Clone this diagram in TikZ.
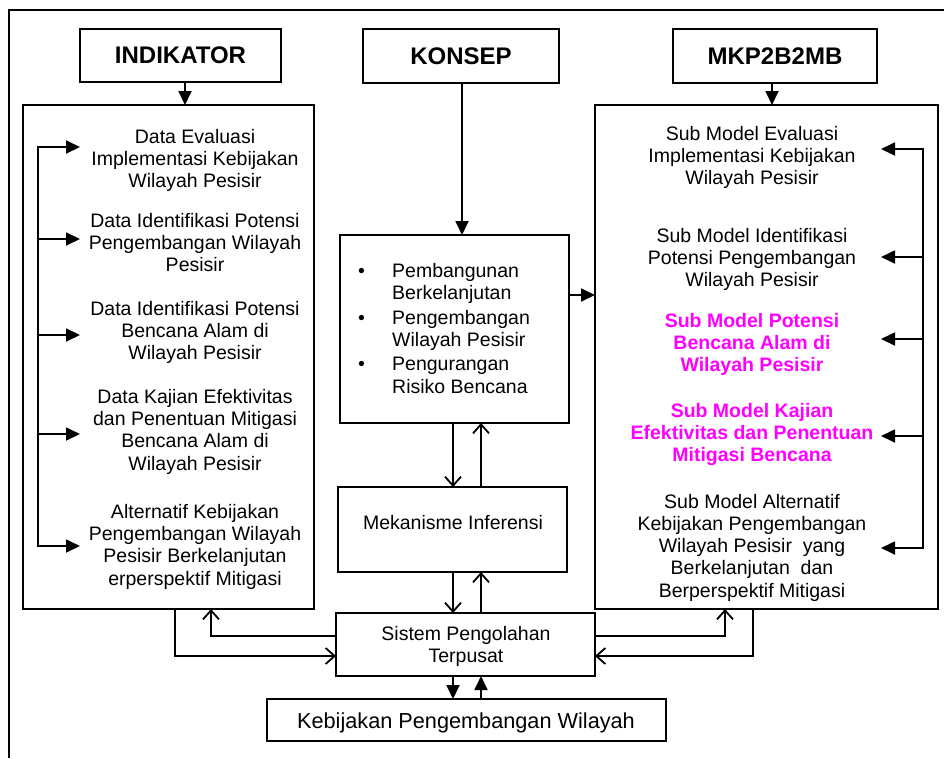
\documentclass[tikz,border=0pt]{standalone}
\usepackage{fontspec}
\setmainfont{Liberation Sans}
\usetikzlibrary{arrows.meta}
\definecolor{mag}{HTML}{FF00FF}
\begin{document}
\begin{tikzpicture}[x=1pt,y=-1pt,
  box/.style={draw,line width=1.8pt,inner sep=0pt,outer sep=0pt},
  hdr/.style={box,font=\fontsize{24}{28}\selectfont\bfseries},
  txt/.style={font=\fontsize{19.5}{22.3}\selectfont,align=center,inner sep=0pt,anchor=base},
  mtxt/.style={txt,font=\fontsize{19.5}{22.3}\selectfont\bfseries,text=mag},
  ln/.style={line width=1.8pt},
  farr/.style={ln,-{Triangle[length=14pt,width=13pt]}},
  oarr/.style={ln,-{Straight Barb[length=9pt,width=16pt]}},
]
\useasboundingbox (0,0) rectangle (944,758);
% outer frame (only top and left edges visible)
\draw[ln] (944,10) -- (9,10) -- (9,758);

% boxes
\node[hdr,minimum width=201pt,minimum height=53pt] (ind) at (180.5,55.5) {INDIKATOR};
\node[hdr,minimum width=196pt,minimum height=54pt] (kon) at (461,56) {KONSEP};
\node[hdr,minimum width=204pt,minimum height=54pt] (mkp) at (775,56) {MKP2B2MB};
\node[box,minimum width=291pt,minimum height=504pt] (lbox) at (168.5,357) {};
\node[box,minimum width=229pt,minimum height=188pt] (cbox) at (454.5,329) {};
\node[box,minimum width=229pt,minimum height=85pt] (mek) at (452.5,529.5) {};
\node[box,minimum width=259pt,minimum height=63pt] (sis) at (465.5,644.5) {};
\node[box,minimum width=399pt,minimum height=42pt] (keb) at (466.5,720) {};
\node[box,minimum width=343pt,minimum height=504pt] (rbox) at (766.5,357) {};

% left texts (anchored at the baseline of the last line)
\node[txt] (l1) at (195,187.6) {Data Evaluasi\\Implementasi Kebijakan\\Wilayah Pesisir};
\node[txt] (l2) at (195,271.6) {Data Identifikasi Potensi\\Pengembangan Wilayah\\Pesisir};
\node[txt] (l3) at (195,359.6) {Data Identifikasi Potensi\\Bencana Alam di\\Wilayah Pesisir};
\node[txt] (l4) at (195,470) {Data Kajian Efektivitas\\dan Penentuan Mitigasi\\Bencana Alam di\\Wilayah Pesisir};
\node[txt] (l5) at (195,585) {Alternatif Kebijakan\\Pengembangan Wilayah\\Pesisir Berkelanjutan\\erperspektif Mitigasi};

% right texts
\node[txt] (r1) at (752,184.6) {Sub Model Evaluasi\\Implementasi Kebijakan\\Wilayah Pesisir};
\node[txt] (r2) at (752,286.6) {Sub Model Identifikasi\\Potensi Pengembangan\\Wilayah Pesisir};
\node[mtxt] (r3) at (752,371.6) {Sub Model Potensi\\Bencana Alam di\\Wilayah Pesisir};
\node[mtxt] (r4) at (752,461.6) {Sub Model Kajian\\Efektivitas dan Penentuan\\Mitigasi Bencana};
\node[txt] (r5) at (752,597.2) {Sub Model Alternatif\\Kebijakan Pengembangan\\Wilayah Pesisir\ \ yang\\Berkelanjutan\ \ dan\\Berperspektif Mitigasi};

% centre texts
\node[txt,align=left,anchor=base west] (bul) at (358,393) {\makebox[34pt][l]{\textbullet}Pembangunan\\\hspace*{34pt}Berkelanjutan\\[2pt]\makebox[34pt][l]{\textbullet}Pengembangan\\\hspace*{34pt}Wilayah Pesisir\\[2pt]\makebox[34pt][l]{\textbullet}Pengurangan\\\hspace*{34pt}Risiko Bencana};
\node[txt] (mekt) at (453,529) {Mekanisme Inferensi};
\node[txt] (sist) at (466,662.3) {Sistem Pengolahan\\Terpusat};
\node[txt,font=\fontsize{21.7}{25}\selectfont] (kebt) at (466,728) {Kebijakan Pengembangan Wilayah};

% helper coordinates
\coordinate (A1) at (185,0);
\coordinate (A2) at (462,0);
\coordinate (A3) at (772,0);
\coordinate (Y3) at (0,295);
\coordinate (V1) at (453,0);
\coordinate (V2) at (481,0);
\coordinate (L1) at (175,0);
\coordinate (L2) at (211,0);
\coordinate (R1) at (725,0);
\coordinate (R2) at (753,0);
\coordinate (Y1) at (0,636);
\coordinate (Y2) at (0,656);

% top arrows
\draw[farr] (ind.south -| A1) -- (lbox.north -| A1);
\draw[farr] (kon.south -| A2) -- (cbox.north -| A2);
\draw[farr] (mkp.south -| A3) -- (rbox.north -| A3);
\draw[farr] (cbox.east |- Y3) -- (rbox.west |- Y3);

% centre column
\draw[oarr] (cbox.south -| V1) -- (mek.north -| V1);
\draw[oarr] (mek.north -| V2) -- (cbox.south -| V2);
\draw[oarr] (mek.south -| V1) -- (sis.north -| V1);
\draw[oarr] (sis.north -| V2) -- (mek.south -| V2);
\draw[farr] (sis.south -| V1) -- (keb.north -| V1);
\draw[farr] (keb.north -| V2) -- (sis.south -| V2);

% side loops
\draw[oarr] (lbox.south -| L1) -- (L1 |- Y2) -- (sis.west |- Y2);
\draw[oarr] (sis.west |- Y1) -- (L2 |- Y1) -- (lbox.south -| L2);
\draw[oarr] (sis.east |- Y1) -- (R1 |- Y1) -- (rbox.south -| R1);
\draw[oarr] (rbox.south -| R2) -- (R2 |- Y2) -- (sis.east |- Y2);

% left internal distributor
\coordinate (lb1) at (38,147); \coordinate (la1) at (80,147);
\coordinate (lb2) at (38,239); \coordinate (la2) at (80,239);
\coordinate (lb3) at (38,335); \coordinate (la3) at (80,335);
\coordinate (lb4) at (38,434); \coordinate (la4) at (80,434);
\coordinate (lb5) at (38,546); \coordinate (la5) at (80,546);
\draw[farr] (lb5) -- (lb1) -- (la1);
\draw[farr] (lb1) -- (lb5) -- (la5);
\draw[farr] (lb2) -- (la2);
\draw[farr] (lb3) -- (la3);
\draw[farr] (lb4) -- (la4);

% right internal distributor
\coordinate (rb1) at (923,149); \coordinate (ra1) at (881,149);
\coordinate (rb2) at (923,257); \coordinate (ra2) at (881,257);
\coordinate (rb3) at (923,339); \coordinate (ra3) at (881,339);
\coordinate (rb4) at (923,436); \coordinate (ra4) at (881,436);
\coordinate (rb5) at (923,548); \coordinate (ra5) at (881,548);
\draw[farr] (rb5) -- (rb1) -- (ra1);
\draw[farr] (rb1) -- (rb5) -- (ra5);
\draw[farr] (rb2) -- (ra2);
\draw[farr] (rb3) -- (ra3);
\draw[farr] (rb4) -- (ra4);
\end{tikzpicture}
\end{document}
